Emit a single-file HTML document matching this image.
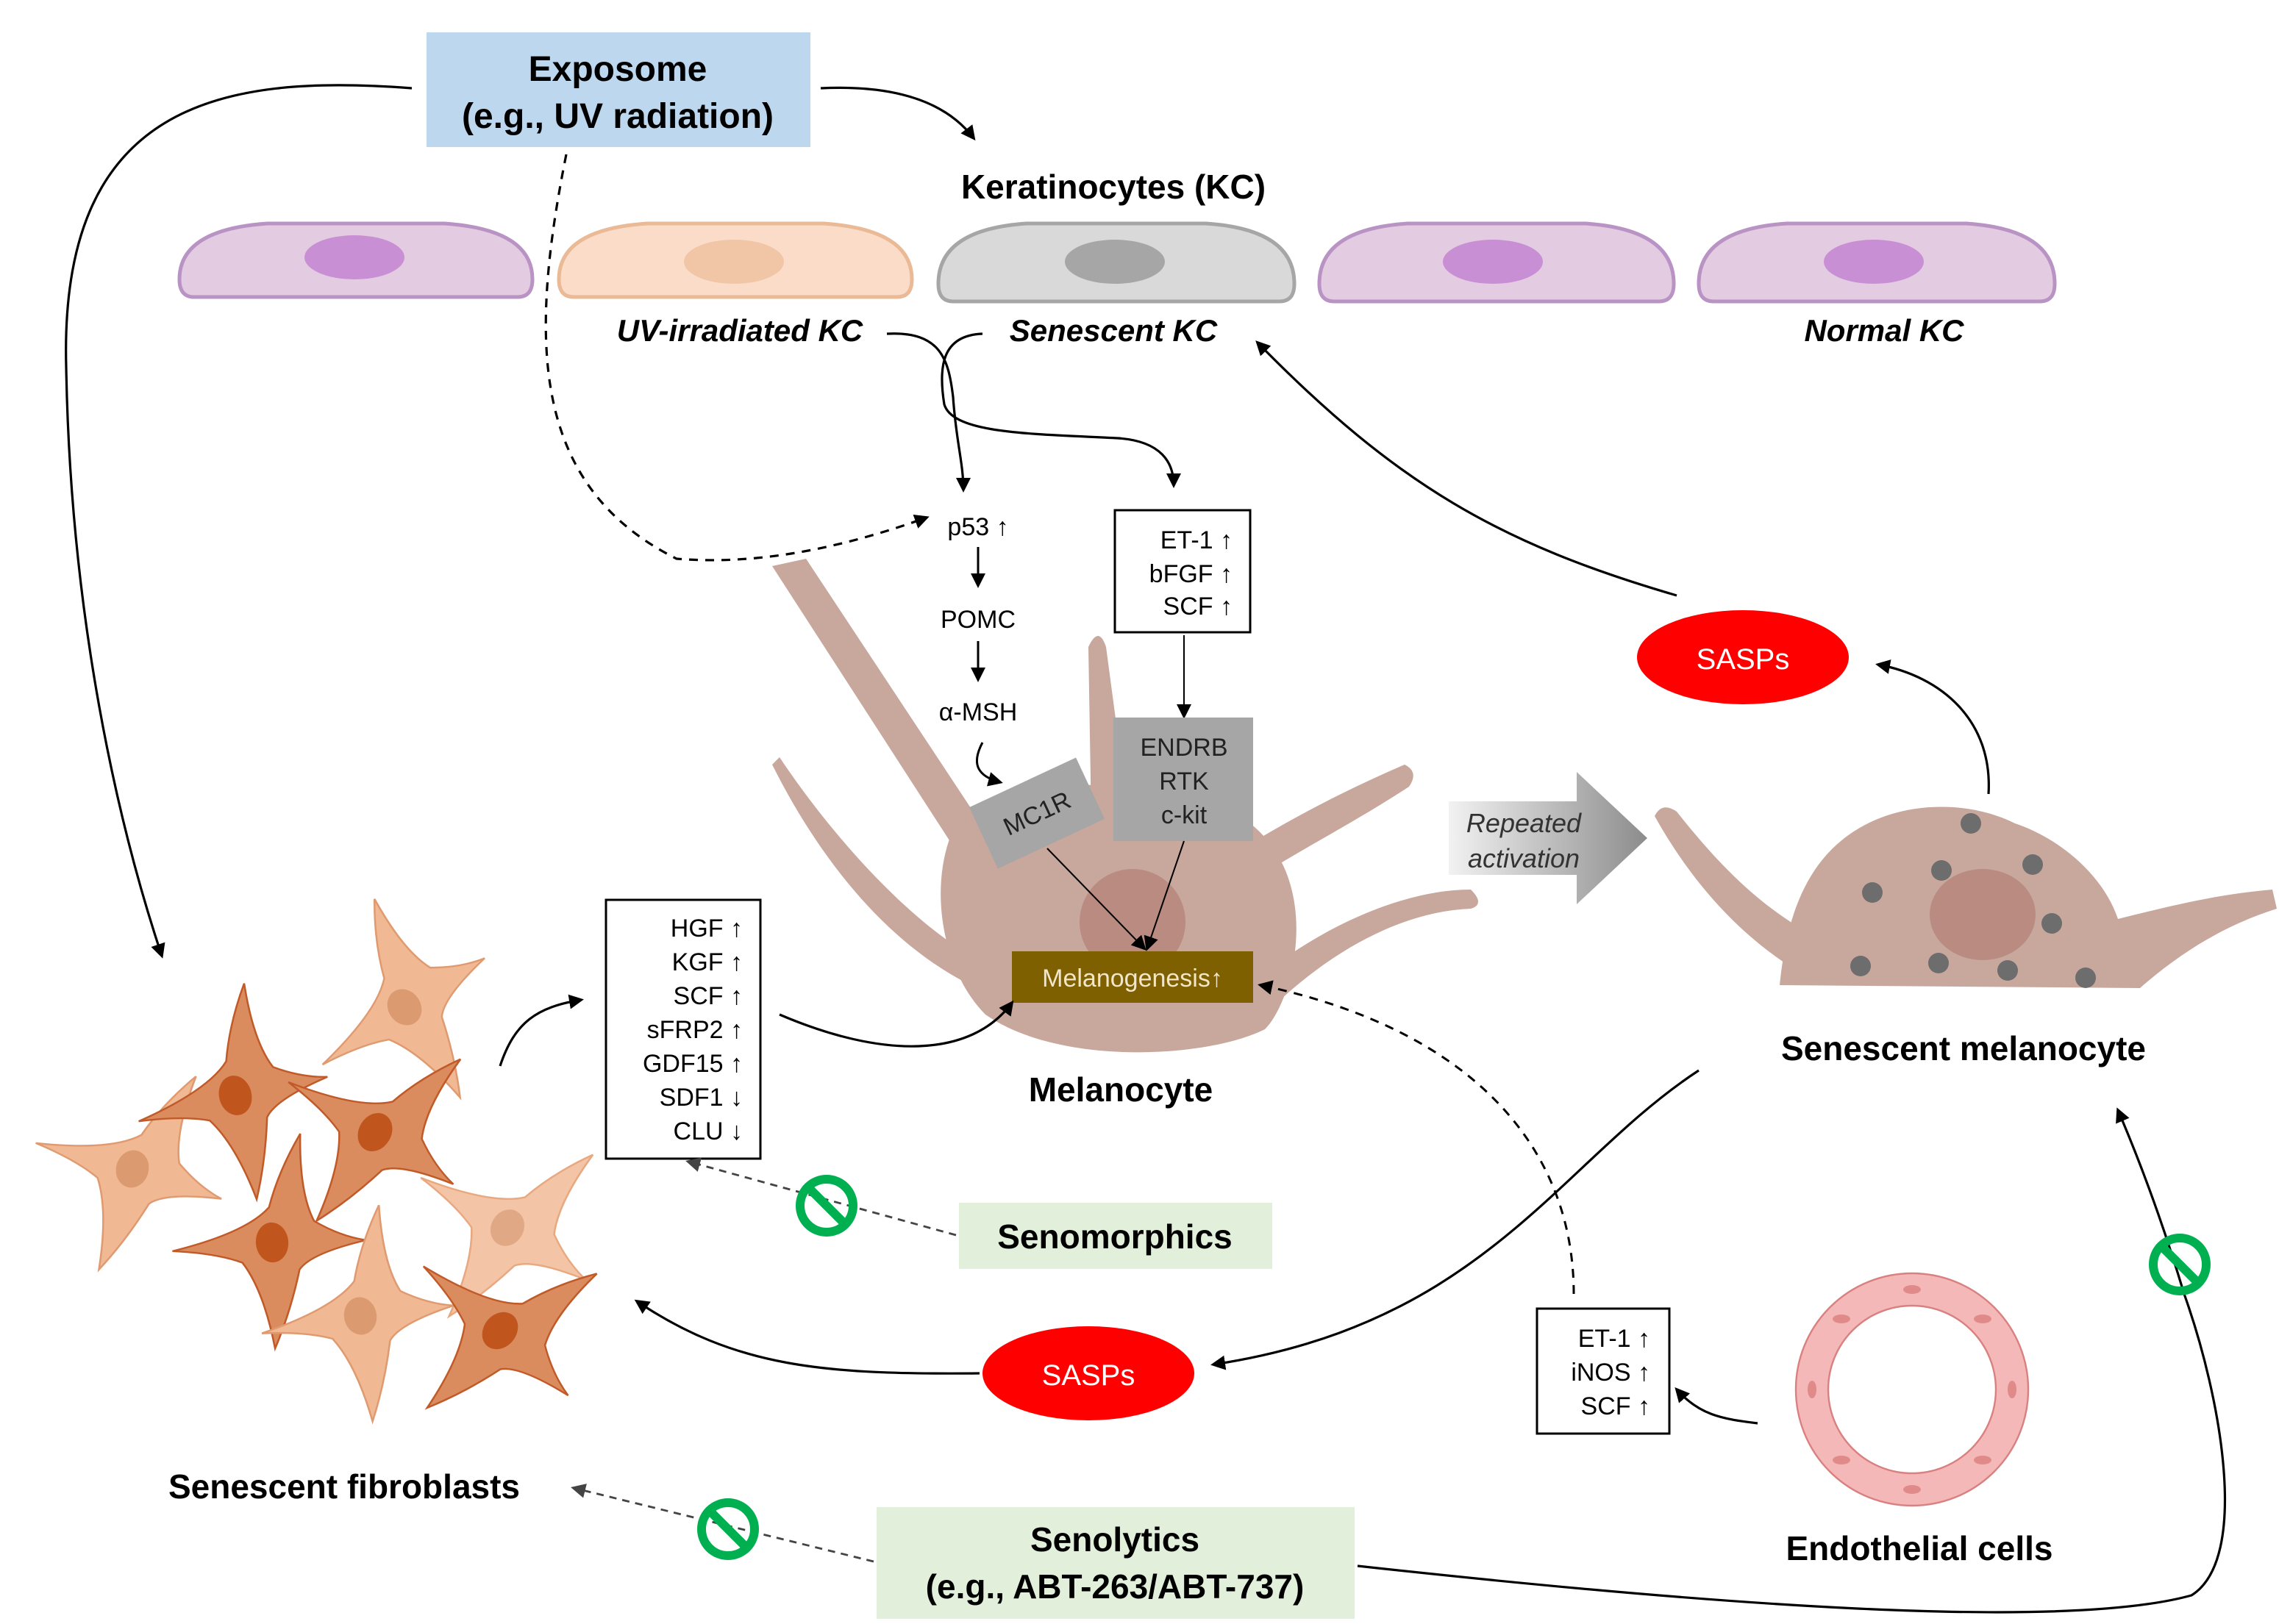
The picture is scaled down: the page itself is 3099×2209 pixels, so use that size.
<!DOCTYPE html>
<html><head><meta charset="utf-8"><style>
html,body{margin:0;padding:0;background:#fff}
svg{display:block}
text{font-family:"Liberation Sans",Arial,sans-serif}
</style></head><body>
<svg width="3099" height="2209" viewBox="0 0 1549.5 1104.5" xmlns="http://www.w3.org/2000/svg">
<defs>
<marker id="a" markerWidth="10" markerHeight="10" refX="8" refY="5" orient="auto" markerUnits="userSpaceOnUse"><path d="M0,0 L10,5 L0,10 Z" fill="#000"/></marker>
<marker id="ag" markerWidth="10" markerHeight="10" refX="8" refY="5" orient="auto" markerUnits="userSpaceOnUse"><path d="M0,0 L10,5 L0,10 Z" fill="#444"/></marker>
<linearGradient id="rg" x1="0" x2="1"><stop offset="0" stop-color="#f2f2f2"/><stop offset="1" stop-color="#8c8c8c"/></linearGradient>
<path id="fb" d="M-80,0 Q-20,-10 0,-30 Q10,-60 30,-90 Q25,-40 35,-15 Q55,0 75,5 Q30,12 20,25 Q10,60 -5,90 Q-10,40 -25,15 Q-45,5 -80,0 Z"/>
<g id="no"><circle r="18" fill="none" stroke="#00b050" stroke-width="6"/><line x1="-12" y1="-12" x2="12" y2="12" stroke="#00b050" stroke-width="6"/></g>
</defs>
<rect width="1549.5" height="1104.5" fill="#fff"/>

<!-- Exposome -->
<rect x="290" y="22" width="261" height="78" fill="#bdd7ee"/>
<text x="420" y="55" font-size="24" font-weight="bold" text-anchor="middle">Exposome</text>
<text x="420" y="87" font-size="24" font-weight="bold" text-anchor="middle">(e.g., UV radiation)</text>
<path d="M280,60 C150,50 40,70 45,250 C48,420 80,560 110,650" fill="none" stroke="#000" stroke-width="1.6" marker-end="url(#a)"/>
<path d="M558,60 C600,58 640,65 662,94" fill="none" stroke="#000" stroke-width="1.6" marker-end="url(#a)"/>
<path d="M385,105 C360,230 360,330 460,380 C520,385 580,370 630,352" fill="none" stroke="#000" stroke-width="1.6" stroke-dasharray="6,5" marker-end="url(#a)"/>

<!-- Keratinocytes -->
<text x="757" y="135" font-size="23" font-weight="bold" text-anchor="middle">Keratinocytes (KC)</text>
<g stroke-width="2.5">
<path d="M132,202 Q122,202 122,190 Q122,156 182,152 L302,152 Q362,156 362,190 Q362,202 352,202 Z" fill="#e3cbe1" stroke="#b893c4"/>
<ellipse cx="241" cy="175" rx="34" ry="15" fill="#c98fd4"/>
<path d="M390,202 Q380,202 380,190 Q380,156 440,152 L560,152 Q620,156 620,190 Q620,202 610,202 Z" fill="#fadcc8" stroke="#eab995"/>
<ellipse cx="499" cy="178" rx="34" ry="15" fill="#f0c6a6"/>
<path d="M648,205 Q638,205 638,193 Q638,156 698,152 L820,152 Q880,156 880,193 Q880,205 870,205 Z" fill="#d9d9d9" stroke="#a6a6a6"/>
<ellipse cx="758" cy="178" rx="34" ry="15" fill="#a6a6a6"/>
<path d="M907,205 Q897,205 897,193 Q897,156 957,152 L1078,152 Q1138,156 1138,193 Q1138,205 1128,205 Z" fill="#e3cbe1" stroke="#b893c4"/>
<ellipse cx="1015" cy="178" rx="34" ry="15" fill="#c98fd4"/>
<path d="M1165,205 Q1155,205 1155,193 Q1155,156 1215,152 L1337,152 Q1397,156 1397,193 Q1397,205 1387,205 Z" fill="#e3cbe1" stroke="#b893c4"/>
<ellipse cx="1274" cy="178" rx="34" ry="15" fill="#c98fd4"/>
</g>
<g font-size="21" font-weight="bold" font-style="italic" text-anchor="middle">
<text x="503" y="232">UV-irradiated KC</text>
<text x="757" y="232">Senescent KC</text>
<text x="1281" y="232">Normal KC</text>
</g>
<path d="M603,227 C640,225 645,245 648,270 C650,300 655,315 655,333" fill="none" stroke="#000" stroke-width="1.6" marker-end="url(#a)"/>
<path d="M668,227 C640,228 638,250 642,275 C648,295 700,295 760,298 C790,300 798,315 798,330" fill="none" stroke="#000" stroke-width="1.6" marker-end="url(#a)"/>

<!-- Melanocyte -->
<g fill="#c8a79c">
<path d="M525,385 L548,380 L700,610 L680,625 Z"/>
<path d="M530,515 C560,560 610,620 660,650 L660,670 C600,640 555,580 525,520 Z"/>
<path d="M740,440 Q747,425 752,440 L768,560 L742,560 Z"/>
<path d="M955,520 Q965,525 958,535 C920,560 880,580 850,600 L840,580 C880,555 920,535 955,520 Z"/>
<path d="M1000,605 Q1010,615 1000,618 C950,620 900,650 860,690 L850,670 C890,635 950,605 1000,605 Z"/>
<path d="M650,560 C690,520 780,530 850,560 C900,600 880,680 860,700 C820,720 720,725 670,690 C640,660 630,600 650,560 Z"/>
</g>
<circle cx="770" cy="627" r="36" fill="#b98b81"/>

<text x="665" y="364" font-size="17" text-anchor="middle">p53 ↑</text>
<line x1="665" y1="372" x2="665" y2="398" stroke="#000" stroke-width="1.5" marker-end="url(#a)"/>
<text x="665" y="427" font-size="17" text-anchor="middle">POMC</text>
<line x1="665" y1="436" x2="665" y2="462" stroke="#000" stroke-width="1.5" marker-end="url(#a)"/>
<text x="665" y="490" font-size="17" text-anchor="middle">α-MSH</text>
<path d="M668,505 C660,520 665,528 680,532" fill="none" stroke="#000" stroke-width="1.5" marker-end="url(#a)"/>

<rect x="758" y="347" width="92" height="83" fill="#fff" stroke="#000" stroke-width="1.5"/>
<g font-size="17" text-anchor="end"><text x="838" y="373">ET-1 ↑</text><text x="838" y="396">bFGF ↑</text><text x="838" y="418">SCF ↑</text></g>
<line x1="805" y1="432" x2="805" y2="487" stroke="#000" stroke-width="1" marker-end="url(#a)"/>
<rect x="757" y="488" width="95" height="84" fill="#a6a6a6"/>
<g font-size="17" text-anchor="middle" fill="#222"><text x="805" y="514">ENDRB</text><text x="805" y="537">RTK</text><text x="805" y="560">c-kit</text></g>
<g transform="translate(705,553) rotate(-25)"><rect x="-40" y="-23" width="80" height="46" fill="#a6a6a6"/><text x="0" y="6" font-size="17" text-anchor="middle" fill="#222">MC1R</text></g>
<line x1="712" y1="577" x2="778" y2="645" stroke="#000" stroke-width="1" marker-end="url(#a)"/>
<line x1="805" y1="572" x2="780" y2="645" stroke="#000" stroke-width="1" marker-end="url(#a)"/>
<rect x="688" y="647" width="164" height="35" fill="#7f6000"/>
<text x="770" y="671" font-size="17" text-anchor="middle" fill="#f2e6c8">Melanogenesis↑</text>
<text x="762" y="749" font-size="23" font-weight="bold" text-anchor="middle">Melanocyte</text>

<!-- Repeated activation -->
<path d="M985,545 L1072,545 L1072,525 L1120,570 L1072,615 L1072,595 L985,595 Z" fill="url(#rg)"/>
<g font-size="18" font-style="italic" text-anchor="middle" fill="#333"><text x="1036" y="566">Repeated</text><text x="1036" y="590">activation</text></g>

<!-- Senescent melanocyte -->
<g fill="#c8a79c">
<path d="M1125,555 Q1130,545 1140,552 C1170,590 1200,620 1240,640 L1230,665 C1185,640 1150,600 1125,555 Z"/>
<path d="M1210,670 C1215,620 1230,580 1270,560 C1300,545 1340,545 1370,560 C1400,570 1430,595 1440,625 C1480,615 1510,608 1545,605 L1548,618 C1510,630 1480,650 1455,672 Z"/>
</g>
<ellipse cx="1348" cy="622" rx="36" ry="31" fill="#b98b81"/>
<g fill="#6d6d6d">
<circle cx="1340" cy="560" r="7"/><circle cx="1382" cy="588" r="7"/><circle cx="1320" cy="592" r="7"/><circle cx="1273" cy="607" r="7"/><circle cx="1395" cy="628" r="7"/><circle cx="1265" cy="657" r="7"/><circle cx="1318" cy="655" r="7"/><circle cx="1365" cy="660" r="7"/><circle cx="1418" cy="665" r="7"/>
</g>
<text x="1335" y="721" font-size="23" font-weight="bold" text-anchor="middle">Senescent melanocyte</text>

<!-- SASPs -->
<ellipse cx="1185" cy="447" rx="72" ry="32" fill="#ff0000"/>
<text x="1185" y="455" font-size="20" text-anchor="middle" fill="#fff">SASPs</text>
<path d="M1352,540 C1355,490 1320,460 1277,452" fill="none" stroke="#000" stroke-width="1.6" marker-end="url(#a)"/>
<path d="M1140,405 C1020,370 950,330 855,233" fill="none" stroke="#000" stroke-width="1.6" marker-end="url(#a)"/>
<ellipse cx="740" cy="934" rx="72" ry="32" fill="#ff0000"/>
<text x="740" y="942" font-size="20" text-anchor="middle" fill="#fff">SASPs</text>
<path d="M1155,728 C1060,790 1010,900 825,928" fill="none" stroke="#000" stroke-width="1.6" marker-end="url(#a)"/>
<path d="M666,934 C560,935 500,930 433,885" fill="none" stroke="#000" stroke-width="1.6" marker-end="url(#a)"/>

<!-- Fibroblasts -->
<g stroke-width="1.5">
<g transform="translate(90,795) rotate(15) scale(0.85,0.8)" fill="#f0b893" stroke="#e09a70"><use href="#fb"/><ellipse rx="13" ry="16" fill="#dc9a70" stroke="none"/></g>
<g transform="translate(160,745) rotate(-15) scale(0.85,0.8)" fill="#db8c5e" stroke="#c05a28"><use href="#fb"/><ellipse rx="13" ry="17" fill="#c0561e" stroke="none"/></g>
<g transform="translate(275,685) rotate(-35) scale(0.85,0.8)" fill="#f0b893" stroke="#e09a70"><use href="#fb"/><ellipse rx="13" ry="16" fill="#dc9a70" stroke="none"/></g>
<g transform="translate(255,770) rotate(30) scale(0.85,0.8)" fill="#db8c5e" stroke="#c05a28"><use href="#fb"/><ellipse rx="13" ry="17" fill="#c0561e" stroke="none"/></g>
<g transform="translate(185,845) rotate(-5) scale(0.85,0.8)" fill="#db8c5e" stroke="#c05a28"><use href="#fb"/><ellipse rx="13" ry="17" fill="#c0561e" stroke="none"/></g>
<g transform="translate(345,835) rotate(30) scale(0.85,0.8)" fill="#f3c4a5" stroke="#e8a880"><use href="#fb"/><ellipse rx="13" ry="16" fill="#e0a884" stroke="none"/></g>
<g transform="translate(245,895) rotate(-10) scale(0.85,0.8)" fill="#f0b893" stroke="#e09a70"><use href="#fb"/><ellipse rx="13" ry="16" fill="#dc9a70" stroke="none"/></g>
<g transform="translate(340,905) rotate(40) scale(0.85,0.8)" fill="#db8c5e" stroke="#c05a28"><use href="#fb"/><ellipse rx="13" ry="17" fill="#c0561e" stroke="none"/></g>
</g>
<text x="234" y="1019" font-size="23" font-weight="bold" text-anchor="middle">Senescent fibroblasts</text>

<!-- HGF box -->
<rect x="412" y="612" width="105" height="176" fill="#fff" stroke="#000" stroke-width="1.5"/>
<g font-size="17" text-anchor="end">
<text x="505" y="637">HGF ↑</text><text x="505" y="660">KGF ↑</text><text x="505" y="683">SCF ↑</text><text x="505" y="706">sFRP2 ↑</text><text x="505" y="729">GDF15 ↑</text><text x="505" y="752">SDF1 ↓</text><text x="505" y="775">CLU ↓</text>
</g>
<path d="M340,725 C350,695 365,685 395,680" fill="none" stroke="#000" stroke-width="1.6" marker-end="url(#a)"/>
<path d="M530,690 C600,720 660,720 688,682" fill="none" stroke="#000" stroke-width="1.6" marker-end="url(#a)"/>

<!-- Senomorphics -->
<rect x="652" y="818" width="213" height="45" fill="#e2efda"/>
<text x="758" y="849" font-size="23" font-weight="bold" text-anchor="middle">Senomorphics</text>
<line x1="650" y1="840" x2="468" y2="790" stroke="#444" stroke-width="1.4" stroke-dasharray="5,4" marker-end="url(#ag)"/>
<use href="#no" x="562" y="820"/>

<!-- Endothelial -->
<rect x="1045" y="890" width="90" height="85" fill="#fff" stroke="#000" stroke-width="1.5"/>
<g font-size="17" text-anchor="end"><text x="1122" y="916">ET-1 ↑</text><text x="1122" y="939">iNOS ↑</text><text x="1122" y="962">SCF ↑</text></g>
<circle cx="1300" cy="945" r="68" fill="none" stroke="#f4b8b8" stroke-width="22"/>
<circle cx="1300" cy="945" r="79" fill="none" stroke="#d98080" stroke-width="1.2"/>
<circle cx="1300" cy="945" r="57" fill="none" stroke="#d98080" stroke-width="1.2"/>
<g fill="#e08a8a">
<ellipse cx="1300" cy="877" rx="6" ry="3"/><ellipse cx="1348" cy="897" rx="6" ry="3"/><ellipse cx="1368" cy="945" rx="3" ry="6"/><ellipse cx="1348" cy="993" rx="6" ry="3"/><ellipse cx="1300" cy="1013" rx="6" ry="3"/><ellipse cx="1252" cy="993" rx="6" ry="3"/><ellipse cx="1232" cy="945" rx="3" ry="6"/><ellipse cx="1252" cy="897" rx="6" ry="3"/>
</g>
<text x="1305" y="1061" font-size="23" font-weight="bold" text-anchor="middle">Endothelial cells</text>
<path d="M1195,968 C1170,965 1155,962 1140,945" fill="none" stroke="#000" stroke-width="1.6" marker-end="url(#a)"/>
<path d="M1070,880 C1070,780 1000,700 857,670" fill="none" stroke="#000" stroke-width="1.5" stroke-dasharray="6,5" marker-end="url(#a)"/>

<!-- Senolytics -->
<rect x="596" y="1025" width="325" height="76" fill="#e2efda"/>
<text x="758" y="1055" font-size="23" font-weight="bold" text-anchor="middle">Senolytics</text>
<text x="758" y="1087" font-size="23" font-weight="bold" text-anchor="middle">(e.g., ABT-263/ABT-737)</text>
<line x1="594" y1="1062" x2="390" y2="1012" stroke="#444" stroke-width="1.4" stroke-dasharray="5,4" marker-end="url(#ag)"/>
<use href="#no" x="495" y="1040"/>
<path d="M923,1065 C1150,1090 1400,1110 1490,1085 C1530,1060 1510,950 1485,880 C1470,830 1455,790 1440,755" fill="none" stroke="#000" stroke-width="1.6" marker-end="url(#a)"/>
<use href="#no" x="1482" y="860"/>
</svg>
</body></html>
